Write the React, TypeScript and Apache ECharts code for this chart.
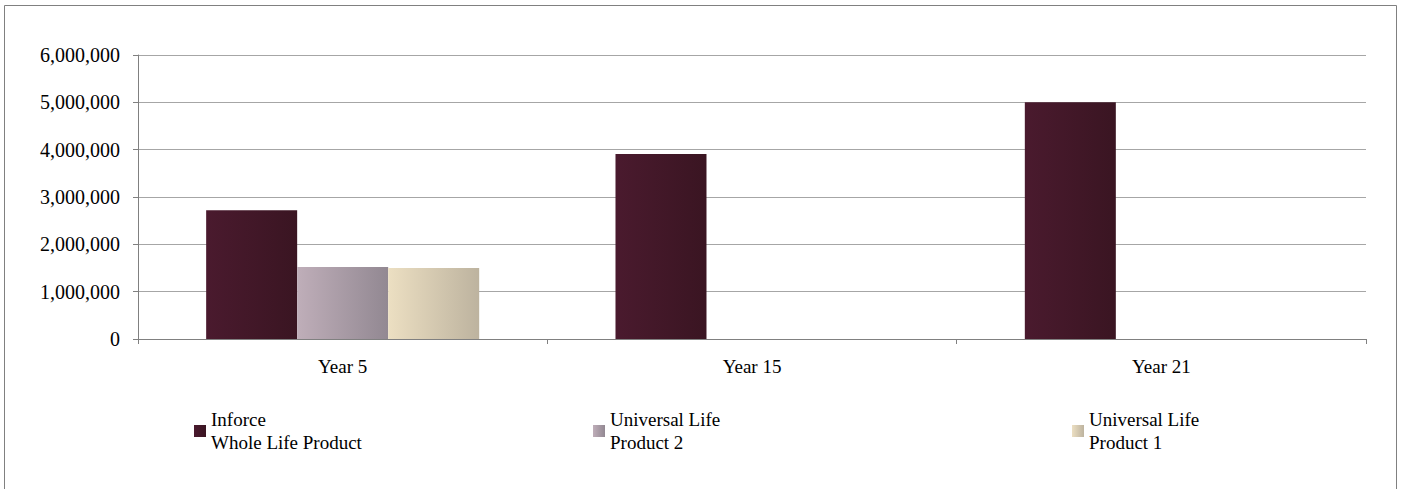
import React, { useEffect, useRef } from "react";
import * as echarts from "echarts";

const categories = ["Year 5", "Year 15", "Year 21"];
const seriesNames = ["Inforce\nWhole Life Product", "Universal Life\nProduct 2", "Universal Life\nProduct 1"];
const inforceWL = [2720000, 3910000, 5000000];
const ulProduct2 = [1520000, null, null];
const ulProduct1 = [1500000, null, null];
const yTicks = [0, 1000000, 2000000, 3000000, 4000000, 5000000, 6000000];

const FONT = "Liberation Serif";

function grad(c1: string, c2: string) {
  return new echarts.graphic.LinearGradient(0, 0, 1, 0, [
    { offset: 0, color: c1 },
    { offset: 1, color: c2 },
  ]);
}

export default function App() {
  const ref = useRef<HTMLDivElement>(null);
  useEffect(() => {
    if (!ref.current) return;
    const chart = echarts.init(ref.current, undefined, { renderer: "svg" });
    const colors = [
      grad("#4a1a2e", "#3a1522"),
      grad("#bfaeb9", "#928892"),
      grad("#ecdfc2", "#bdb39f"),
    ];
    const legendLefts = [194, 593, 1072];
    const legendText = {
      fontFamily: FONT,
      fontSize: 19,
      color: "#000",
      lineHeight: 23,
      padding: [24, 0, 0, 0],
    };
    chart.setOption({
      animation: false,
      backgroundColor: "#fff",
      textStyle: { fontFamily: FONT },
      graphic: [
        {
          type: "rect",
          shape: { x: 4.5, y: 5.5, width: 1392, height: 520 },
          style: { fill: "none", stroke: "#808080", lineWidth: 1 },
          silent: true,
        },
      ],
      grid: { left: 138, right: 37, top: 55, bottom: 150 },
      legend: seriesNames.map((n, i) => ({
        data: [n],
        left: legendLefts[i],
        top: 396,
        padding: 0,
        itemWidth: 12,
        itemHeight: 12,
        itemGap: 4,
        icon: "rect",
        selectedMode: false,
        textStyle: legendText,
      })),
      xAxis: {
        type: "category",
        data: categories,
        axisLine: { show: true, lineStyle: { color: "#808080", width: 1 } },
        axisTick: { show: true, alignWithLabel: false, length: 5, lineStyle: { color: "#808080" } },
        axisLabel: { fontFamily: FONT, fontSize: 19, color: "#000", margin: 18 },
      },
      yAxis: {
        type: "value",
        min: yTicks[0],
        max: yTicks[yTicks.length - 1],
        interval: yTicks[1] - yTicks[0],
        axisLine: { show: true, lineStyle: { color: "#808080", width: 1 } },
        axisTick: { show: true, length: 5, lineStyle: { color: "#808080" } },
        splitLine: { show: true, lineStyle: { color: "#a6a6a6", width: 1 } },
        axisLabel: {
          fontFamily: FONT,
          fontSize: 20,
          color: "#000",
          margin: 18,
          formatter: (v: number) => v.toLocaleString("en-US"),
        },
      },
      series: [inforceWL, ulProduct2, ulProduct1].map((d, i) => ({
        type: "bar",
        name: seriesNames[i],
        data: d,
        barGap: "0%",
        barCategoryGap: "33.3%",
        itemStyle: { color: colors[i] },
      })),
    });
    return () => chart.dispose();
  }, []);
  return (
    <div
      ref={ref}
      style={{ position: "fixed", left: 0, top: 0, width: 1403, height: 489 }}
    />
  );
}
